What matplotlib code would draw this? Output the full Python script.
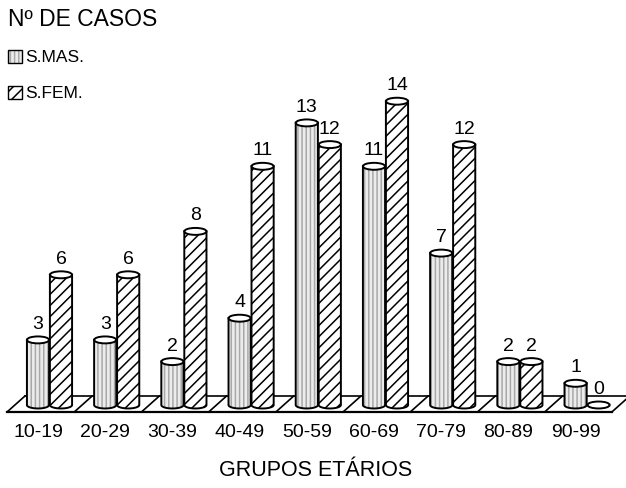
import numpy as np
import matplotlib.pyplot as plt
from matplotlib.patches import Polygon, Ellipse, Rectangle

plt.rcParams['font.family'] = ['Liberation Sans', 'DejaVu Sans']
plt.rcParams['hatch.linewidth'] = 1.1

groups = ['10-19', '20-29', '30-39', '40-49', '50-59', '60-69', '70-79', '80-89', '90-99']
male = [3, 3, 2, 4, 13, 11, 7, 2, 1]
female = [6, 6, 8, 11, 12, 14, 12, 2, 0]

# layout (data units: one group per unit on x, one case per unit on y)
BAR_W = 0.33
OFFSET = 0.171
CAP_H = 0.32
FLOOR_BACK = 0.415
FLOOR_FRONT = -0.323

MALE_STYLE = dict(face='#ececec', hatch='||||', hatch_color='#a8a8a8')
FEMALE_STYLE = dict(face='white', hatch='///', hatch_color='black')

fig = plt.figure(figsize=(6.26, 4.89), dpi=100)
ax = fig.add_axes([0, 0, 1, 1])
ax.set_xlim(-0.7366, 8.5789)
ax.set_ylim(-3.825, 18.71)
ax.axis('off')


def cylinder(x, value, style, z):
    t = np.linspace(np.pi, 2 * np.pi, 40)
    arc_x = x + BAR_W / 2 * np.cos(t)
    arc_y = CAP_H / 2 * np.sin(t)
    if value > 0:
        xs = np.concatenate([[x - BAR_W / 2], arc_x, [x + BAR_W / 2]])
        ys = np.concatenate([[value], arc_y, [value]])
        body = Polygon(np.column_stack([xs, ys]), closed=True,
                       facecolor=style['face'], edgecolor=style['hatch_color'],
                       hatch=style['hatch'], linewidth=0, zorder=z)
        ax.add_patch(body)
        ax.plot(xs, ys, color='black', lw=1.4, zorder=z + 0.1,
                solid_joinstyle='round')
    top = Ellipse((x, value), BAR_W, CAP_H, facecolor='white',
                  edgecolor='black', lw=1.4, zorder=z + 0.2)
    ax.add_patch(top)


# floor
n = len(groups)
ax.plot([-0.632, n - 0.632], [FLOOR_FRONT, FLOOR_FRONT], color='black', lw=1.6, zorder=1)
ax.plot([-0.365, n - 0.365], [FLOOR_BACK, FLOOR_BACK], color='black', lw=1.2, zorder=1)
for k in range(n + 1):
    ax.plot([k - 0.632, k - 0.365], [FLOOR_FRONT, FLOOR_BACK], color='black', lw=1.2, zorder=1)

for i in range(n):
    cylinder(i - OFFSET, male[i], MALE_STYLE, 2 + i)
    cylinder(i + OFFSET, female[i], FEMALE_STYLE, 2.5 + i)
    ax.text(i - OFFSET, male[i] + 0.55, str(male[i]), ha='center', va='baseline',
            fontsize=14, zorder=30)
    ax.text(i + OFFSET, female[i] + 0.55, str(female[i]), ha='center', va='baseline',
            fontsize=14, zorder=30)
    ax.text(i - 0.17, -1.23, groups[i], ha='center', va='center', fontsize=14)

# titles
fig.text(8 / 626, 1 - 20 / 489, 'Nº DE CASOS', ha='left', va='center', fontsize=16.5)
fig.text(316 / 626, 1 - 471 / 489, 'GRUPOS ETÁRIOS', ha='center', va='center', fontsize=15.5)

# legend
legend = [('S.MAS.', MALE_STYLE, 57), ('S.FEM.', FEMALE_STYLE, 93)]
for label, style, py in legend:
    y0 = 1 - (py + 7) / 489
    fig.add_artist(Rectangle((8 / 626, y0), 14 / 626, 13 / 489, transform=fig.transFigure,
                             facecolor=style['face'], edgecolor=style['hatch_color'],
                             hatch=style['hatch'], linewidth=0))
    fig.add_artist(Rectangle((8 / 626, y0), 14 / 626, 13 / 489, transform=fig.transFigure,
                             facecolor='none', edgecolor='black', linewidth=1.0))
    fig.text(25 / 626, 1 - py / 489, label, ha='left', va='center', fontsize=12.5)

fig.savefig('out.png', dpi=100)
